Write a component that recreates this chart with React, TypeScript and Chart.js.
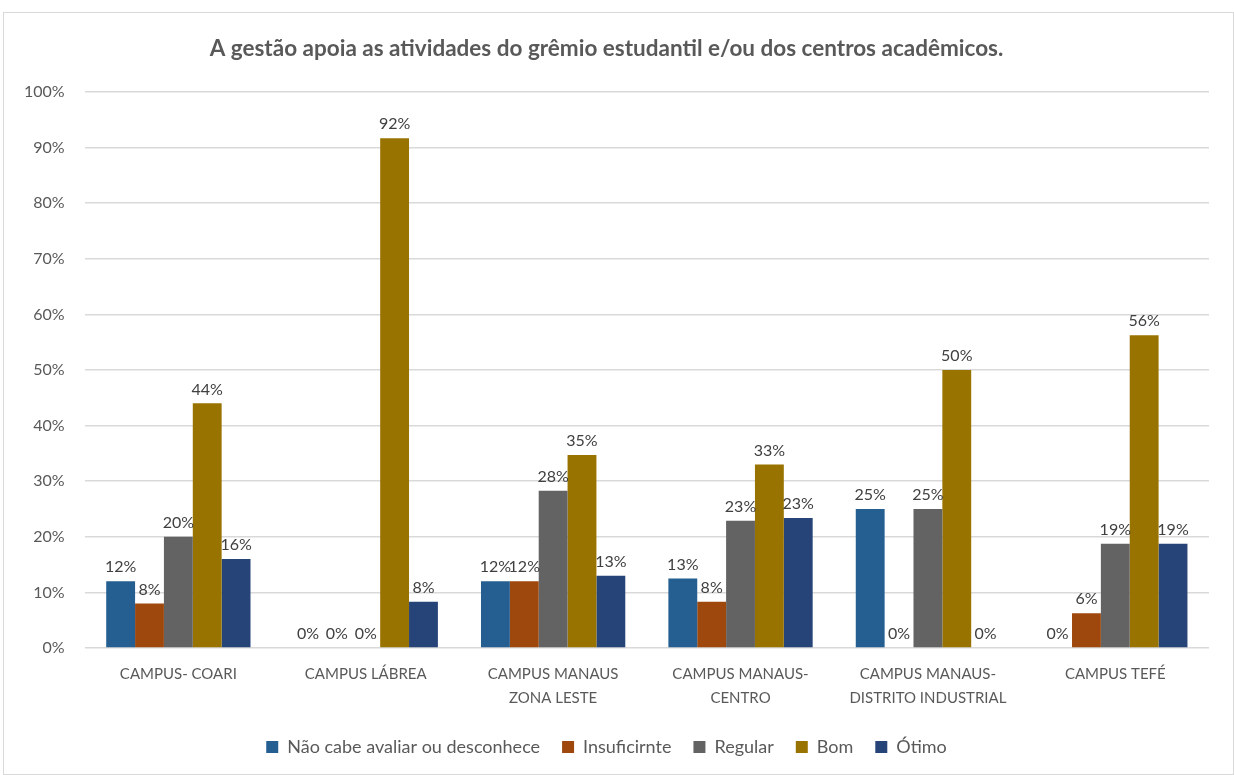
import React, { useEffect, useRef } from "react";
import { Chart, registerables } from "chart.js";

Chart.register(...registerables);

const categories: (string | string[])[] = [
  "CAMPUS- COARI",
  "CAMPUS LÁBREA",
  ["CAMPUS MANAUS", "ZONA LESTE"],
  ["CAMPUS MANAUS-", "CENTRO"],
  ["CAMPUS MANAUS-", "DISTRITO INDUSTRIAL"],
  "CAMPUS TEFÉ",
];

const seriesNames = ["Não cabe avaliar ou desconhece", "Insuficirnte", "Regular", "Bom", "Ótimo"];
const naoCabe = [12, 0, 12, 12.5, 25, 0];
const insuficiente = [8, 0, 12, 8.3, 0, 6.25];
const regular = [20, 0, 28.3, 22.9, 25, 18.75];
const bom = [44, 91.7, 34.7, 33, 50, 56.25];
const otimo = [16, 8.3, 13, 23.4, 0, 18.75];
const seriesColors = ["#255E91", "#9E480E", "#636363", "#997300", "#264478"];
const yTicks = [0, 10, 20, 30, 40, 50, 60, 70, 80, 90, 100];

const FONT = "Lato, 'Open Sans', sans-serif";

const dataLabelPlugin = {
  id: "dataLabels",
  afterDatasetsDraw(chart: any) {
    const ctx = chart.ctx;
    ctx.save();
    ctx.font = `16px ${FONT}`;
    ctx.fillStyle = "#404040";
    ctx.textAlign = "center";
    ctx.textBaseline = "bottom";
    chart.data.datasets.forEach((ds: any, i: number) => {
      const meta = chart.getDatasetMeta(i);
      meta.data.forEach((bar: any, j: number) => {
        const v = ds.data[j];
        ctx.fillText(Math.round(v) + "%", bar.x, bar.y - 6);
      });
    });
    ctx.restore();
  },
};

export default function App() {
  const ref = useRef<HTMLCanvasElement>(null);
  useEffect(() => {
    document.body.style.margin = "0";
    const values = [naoCabe, insuficiente, regular, bom, otimo];
    const chart = new Chart(ref.current!, {
      type: "bar",
      data: {
        labels: categories,
        datasets: seriesNames.map((name, i) => ({
          label: name,
          data: values[i],
          backgroundColor: seriesColors[i],
          borderWidth: 0,
          barPercentage: 1,
          categoryPercentage: 0.77,
        })),
      },
      options: {
        animation: false,
        responsive: false,
        layout: { padding: { left: 0, right: 24, top: 12, bottom: 8 } },
        plugins: {
          title: {
            display: true,
            text: "A gestão apoia as atividades do grêmio estudantil e/ou dos centros acadêmicos.",
            color: "#595959",
            font: { family: FONT, size: 22.5, weight: "bold" },
            padding: { top: 10, bottom: 30 },
          },
          legend: {
            position: "bottom",
            labels: {
              color: "#595959",
              font: { family: FONT, size: 18 },
              boxWidth: 12,
              boxHeight: 12,
              padding: 22,
            },
          },
          tooltip: { enabled: false },
        },
        scales: {
          x: {
            grid: { display: false },
            border: { display: false },
            ticks: {
              color: "#595959",
              font: { family: FONT, size: 15, lineHeight: 1.6 },
              padding: 6,
              maxRotation: 0,
              autoSkip: false,
            },
          },
          y: {
            min: 0,
            max: 100,
            afterBuildTicks: (axis: any) => {
              axis.ticks = yTicks.map((v) => ({ value: v }));
            },
            grid: { color: "#d9d9d9", lineWidth: 1.5, drawTicks: false },
            border: { display: false },
            ticks: {
              color: "#595959",
              font: { family: FONT, size: 16 },
              padding: 20,
              callback: (v: any) => v + "%",
            },
          },
        },
      },
      plugins: [dataLabelPlugin],
    });
    return () => chart.destroy();
  }, []);
  return (
    <div
      style={{
        position: "absolute",
        left: 3,
        top: 12,
        width: 1231,
        height: 763,
        border: "1px solid #d9d9d9",
        boxSizing: "border-box",
        background: "#fff",
      }}
    >
      <canvas ref={ref} width={1229} height={761} style={{ display: "block" }} />
    </div>
  );
}
